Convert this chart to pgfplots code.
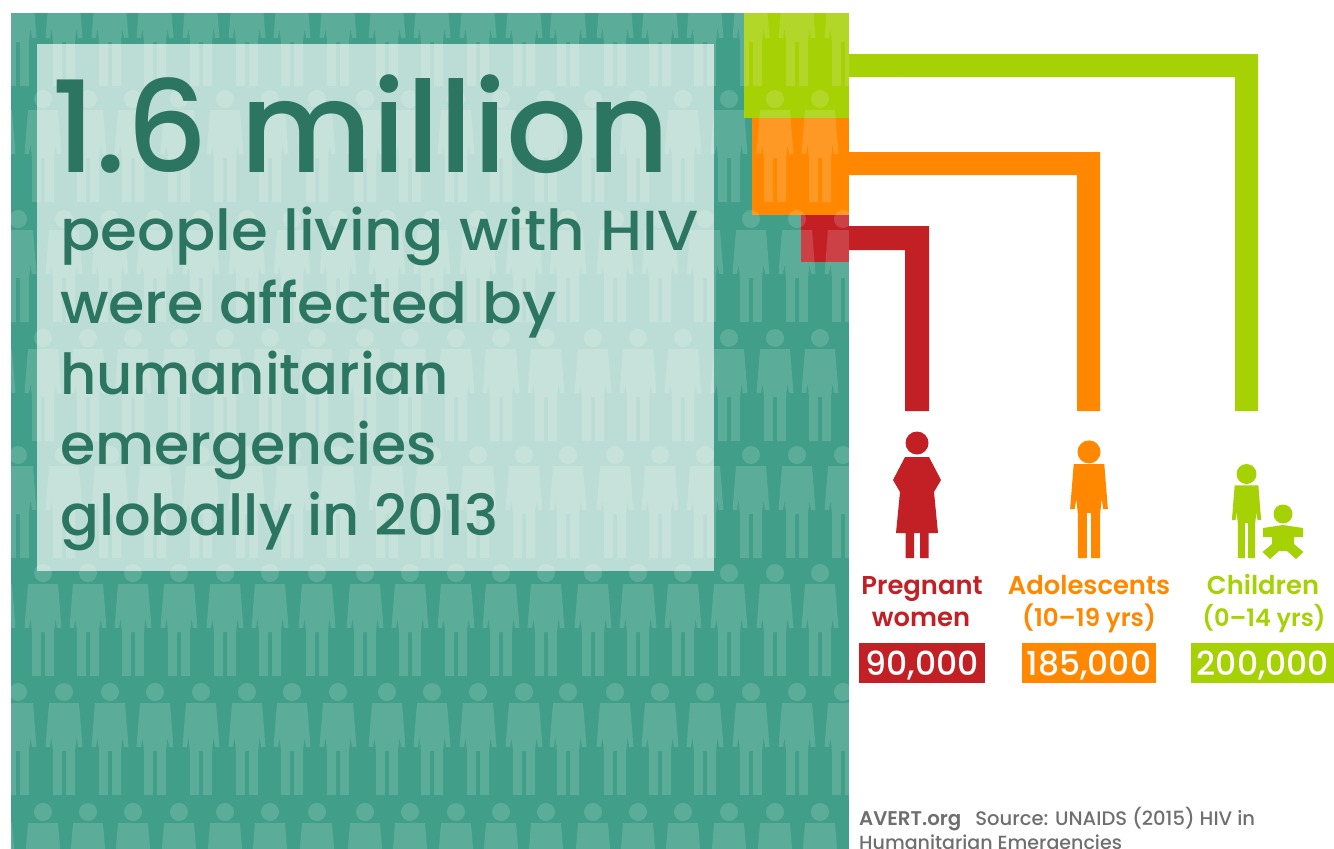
\documentclass[border=0pt]{standalone}
\usepackage{fontspec}
\setmainfont{Poppins}
\newfontfamily\pmed{Poppins Medium}
\newfontfamily\psemi{Poppins SemiBold}
\usepackage{graphicx}
\usepackage{pgfplots}
\pgfplotsset{compat=1.18}

\definecolor{bgteal}{HTML}{409E89}
\definecolor{ink}{HTML}{2B7561}
\definecolor{cgreen}{HTML}{A6D104}
\definecolor{corange}{HTML}{FF8800}
\definecolor{cred}{HTML}{C32026}
\definecolor{cgrey}{HTML}{6F6F6F}

% every axis covers the whole picture in image pixels, 1pt = 1 pixel
\pgfplotsset{pixelaxis/.style={at={(-20pt,0pt)},anchor=south west,width=1354pt,height=849pt,scale only axis,
  xmin=-20,xmax=1334,ymin=0,ymax=849,y dir=reverse,hide axis}}

% short path helpers for the pictograms
\def\pM#1#2{\pgfpathmoveto{\pgfqpoint{#1pt}{#2pt}}}
\def\pL#1#2{\pgfpathlineto{\pgfqpoint{#1pt}{#2pt}}}
\def\pC{\pgfpathclose}
\def\pO#1#2#3{\pgfpathcircle{\pgfqpoint{#1pt}{#2pt}}{#3pt}}
\def\bodypath{%
  \pgfsetcornersarced{\pgfqpoint{4pt}{4pt}}%
  \pM{0}{92}\pL{-15}{92}\pL{-18.5}{48}\pL{-14}{48}\pL{-12.5}{58}\pL{-11}{44}\pL{11}{44}\pL{12.5}{58}\pL{14}{48}\pL{18.5}{48}\pL{15}{92}\pC
  \pM{-6}{50}\pL{-11}{50}\pL{-11}{0}\pL{-2}{0}\pL{-2}{50}\pC
  \pM{6}{50}\pL{2}{50}\pL{2}{0}\pL{11}{0}\pL{11}{50}\pC
  \pgfsetcornersarced{\pgfpointorigin}}

\pgfdeclareplotmark{person}{% origin 75 above the foot line, so that cut rows stay in range
  \pgftransformyshift{-75pt}\bodypath\pO{0}{103}{9}\pgfusepathqfill}
\pgfdeclareplotmark{iconperson}{%
  \pgftransformscale{1.02}\bodypath\pO{0}{104}{11.3}\pgfusepathqfill}
\pgfdeclareplotmark{childperson}{%
  \begingroup\pgftransformscale{.79}\bodypath\endgroup\pO{0}{84}{10}\pgfusepathqfill}
\pgfdeclareplotmark{pregnant}{%
  \pgfsetcornersarced{\pgfqpoint{6pt}{6pt}}%
  \pM{0}{101}\pL{-12}{101}\pL{-24}{78}\pL{-17}{66}\pL{-21}{25}\pL{21}{25}\pL{17}{66}\pL{24}{78}\pL{12}{101}\pC
  \pgfsetcornersarced{\pgfqpoint{3pt}{3pt}}%
  \pM{-7}{30}\pL{-11.5}{30}\pL{-11.5}{0}\pL{-3}{0}\pL{-3}{30}\pC
  \pM{7}{30}\pL{3}{30}\pL{3}{0}\pL{11.5}{0}\pL{11.5}{30}\pC
  \pgfsetcornersarced{\pgfpointorigin}%
  \pM{-17.5}{77}\pL{-13.5}{69}\pL{-15}{83}\pC
  \pM{17.5}{77}\pL{15}{83}\pL{13.5}{69}\pC
  \pO{0}{115}{11.5}%
  \pgfusepathqfill}
\pgfdeclareplotmark{baby}{%
  \pgfsetcornersarced{\pgfqpoint{3pt}{3pt}}%
  \pM{0}{33}\pL{-20}{30}\pL{-20}{21}\pL{-11}{21}\pL{-11}{14}\pL{-20.5}{6}\pL{-13}{-1}\pL{-4}{7}\pL{4}{7}\pL{13}{-1}\pL{20.5}{6}\pL{11}{14}\pL{11}{21}\pL{20}{21}\pL{20}{30}\pC
  \pgfsetcornersarced{\pgfpointorigin}%
  \pO{0}{44}{9.5}%
  \pgfusepathqfill}

\begin{document}
\begin{tikzpicture}[x=1pt,y=1pt]
\path[use as bounding box] (0,0) rectangle (1334,849);
% block, squares and the people, marks come last inside an axis
\begin{axis}[pixelaxis]
\addplot[fill=bgteal,draw=none] coordinates {(11,13) (849,13) (849,849) (11,849)} -- cycle;
\addplot[fill=cgreen,draw=none] coordinates {(744,13) (849,13) (849,118) (744,118)} -- cycle;
\addplot[fill=corange,draw=none] coordinates {(752,118) (849,118) (849,215) (752,215)} -- cycle;
\addplot[fill=cred,draw=none] coordinates {(801,215) (849,215) (849,262) (801,262)} -- cycle;
\addplot[only marks,mark=person,mark options={draw=none,fill=white,fill opacity=.15}] coordinates {
(18,11) (64,11) (110,11) (155,11) (201,11) (247,11) (292,11) (338,11) (387,11) (432,11) (478,11) (524,11) (568,11) (615,11) (660,11) (705,11) (751,11) (797,11) (843,11)
(-3,127) (43,127) (88,127) (133,127) (179,127) (225,127) (270,127) (317,127) (365,127) (410,127) (456,127) (501,127) (546,127) (593,127) (638,127) (683,127) (729,127) (775,127) (820,127)
(18,247) (64,247) (110,247) (155,247) (201,247) (247,247) (292,247) (338,247) (387,247) (432,247) (478,247) (524,247) (568,247) (615,247) (660,247) (705,247) (751,247) (797,247) (843,247)
(-3,366) (43,366) (88,366) (133,366) (179,366) (225,366) (270,366) (317,366) (365,366) (410,366) (456,366) (501,366) (546,366) (593,366) (638,366) (683,366) (729,366) (775,366) (820,366)
(18,483) (64,483) (110,483) (155,483) (201,483) (247,483) (292,483) (338,483) (387,483) (432,483) (478,483) (524,483) (568,483) (615,483) (660,483) (705,483) (751,483) (797,483) (843,483)
(-3,601) (43,601) (88,601) (133,601) (179,601) (225,601) (270,601) (317,601) (365,601) (410,601) (456,601) (501,601) (546,601) (593,601) (638,601) (683,601) (729,601) (775,601) (820,601)
(18,720) (64,720) (110,720) (155,720) (201,720) (247,720) (292,720) (338,720) (387,720) (432,720) (478,720) (524,720) (568,720) (615,720) (660,720) (705,720) (751,720) (797,720) (843,720)
(-3,840) (43,840) (88,840) (133,840) (179,840) (225,840) (270,840) (317,840) (365,840) (410,840) (456,840) (501,840) (546,840) (593,840) (638,840) (683,840) (729,840) (775,840) (820,840)
};
\end{axis}
% everything that lies over the people
\begin{axis}[pixelaxis]
\addplot[fill=white,fill opacity=.65,draw=none] coordinates {(37,44) (714,44) (714,571) (37,571)} -- cycle;
\addplot[fill=white,draw=none] coordinates {(-20,0) (1334,0) (1334,13) (-20,13)} -- cycle;
\addplot[fill=white,draw=none] coordinates {(-20,0) (11,0) (11,849) (-20,849)} -- cycle;
\addplot[fill=white,draw=none] coordinates {(849,13) (900,13) (900,849) (849,849)} -- cycle;
% connectors
\addplot[fill=cgreen,draw=none] coordinates {(849,54) (1258,54) (1258,411) (1235,411) (1235,77) (849,77)} -- cycle;
\addplot[fill=corange,draw=none] coordinates {(849,152) (1100,152) (1100,411) (1077,411) (1077,175) (849,175)} -- cycle;
\addplot[fill=cred,draw=none] coordinates {(849,226) (929,226) (929,411) (905,411) (905,250) (849,250)} -- cycle;
% value boxes
\addplot[fill=cred,draw=none] coordinates {(859,643) (985,643) (985,683) (859,683)} -- cycle;
\addplot[fill=corange,draw=none] coordinates {(1022,643) (1156,643) (1156,683) (1022,683)} -- cycle;
\addplot[fill=cgreen,draw=none] coordinates {(1191,643) (1334,643) (1334,683) (1191,683)} -- cycle;
% pictograms
\addplot[only marks,mark=pregnant,mark options={draw=none,fill=cred}] coordinates {(917,558)};
\addplot[only marks,mark=iconperson,mark options={draw=none,fill=corange}] coordinates {(1089,558)};
\addplot[only marks,mark=childperson,mark options={draw=none,fill=cgreen}] coordinates {(1246.5,558)};
\addplot[only marks,mark=baby,mark options={draw=none,fill=cgreen}] coordinates {(1283,558)};
% text
\node[anchor=base west,inner sep=0pt,text=ink,font=\pmed\fontsize{127}{127}\selectfont] at (axis cs:51,172) {1.6 million};
\begin{scope}[every node/.style={anchor=base west,inner sep=0pt,text=ink,font=\pmed\fontsize{56.5}{60}\selectfont}]
\node at (axis cs:60,250) {\scalebox{1.053}[1]{people living with HIV}};
\node at (axis cs:60,323) {\scalebox{1.04}[1]{were affected by}};
\node at (axis cs:60,394) {\scalebox{.99}[1]{humanitarian}};
\node at (axis cs:60,464) {\scalebox{1.008}[1]{emergencies}};
\node at (axis cs:60,535) {\scalebox{1.016}[1]{globally in 2013}};
\end{scope}
\begin{scope}[every node/.style={anchor=base,inner sep=0pt,font=\psemi\fontsize{25.8}{26}\selectfont}]
\node[text=cred] at (axis cs:922,594) {Pregnant};
\node[text=cred] at (axis cs:921,626) {women};
\node[text=corange] at (axis cs:1089,594) {Adolescents};
\node[text=corange,font=\psemi\fontsize{24.5}{26}\selectfont] at (axis cs:1089,626) {(10–19 yrs)};
\node[text=cgreen] at (axis cs:1263,594) {Children};
\node[text=cgreen,font=\psemi\fontsize{24}{26}\selectfont] at (axis cs:1264,626) {(0–14 yrs)};
\end{scope}
\begin{scope}[every node/.style={anchor=base,inner sep=0pt,text=white,font=\pmed\fontsize{33}{34}\selectfont}]
\node at (axis cs:922,675) {90,000};
\node at (axis cs:1089,675) {185,000};
\node at (axis cs:1263,675) {200,000};
\end{scope}
\begin{scope}[every node/.style={anchor=base west,inner sep=0pt,text=cgrey,font=\pmed\fontsize{19.55}{20}\selectfont}]
\node at (axis cs:859,825) {{\psemi\fontsize{19.8}{20}\selectfont AVERT.org}\hspace{14pt}Source: UNAIDS (2015) HIV in};
\node[font=\pmed\fontsize{19.05}{20}\selectfont] at (axis cs:859,849) {Humanitarian Emergencies};
\end{scope}
\end{axis}
\end{tikzpicture}
\end{document}
